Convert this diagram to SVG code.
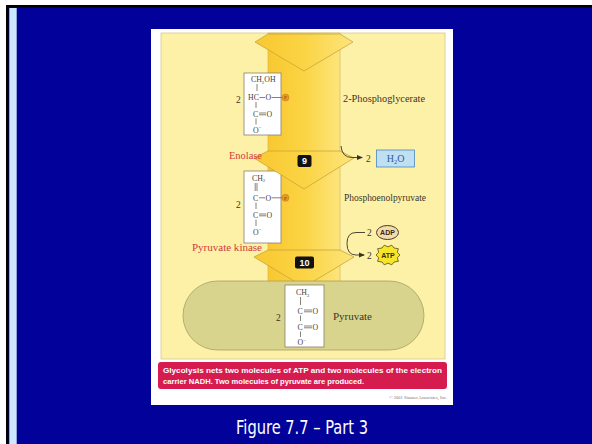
<svg xmlns="http://www.w3.org/2000/svg" width="592" height="444" viewBox="0 0 592 444">
<defs>
<style>
.mol{font-family:"Liberation Serif",serif;font-size:7.8px;fill:#4a4236}
.lbl{font-family:"Liberation Serif",serif;font-size:9.5px;fill:#3c3426}
.red{font-family:"Liberation Serif",serif;font-size:9.5px;fill:#d23a3a}
.bond{stroke:#6a6250;stroke-width:0.8;fill:none}
.box{fill:#ffffff;stroke:#8a8068;stroke-width:0.8}
.head{fill:url(#bandg);stroke:#c9a43a;stroke-width:0.8}
.step{fill:#111;}
.stept{font-family:"Liberation Sans",sans-serif;font-weight:bold;font-size:9px;fill:#fff;text-anchor:middle}
</style>
<linearGradient id="bandg" x1="0" y1="0" x2="1" y2="0">
<stop offset="0" stop-color="#f8c830"/>
<stop offset="0.5" stop-color="#fbd444"/>
<stop offset="1" stop-color="#fde57c"/>
</linearGradient>
<marker id="ah" markerWidth="6" markerHeight="6" refX="5" refY="3" orient="auto" markerUnits="userSpaceOnUse">
<path d="M0,0.5 L6,3 L0,5.5 Z" fill="#3a3426"/>
</marker>
</defs>

<rect x="0" y="0" width="592" height="444" fill="#02029a"/>
<rect x="0" y="0" width="592" height="5" fill="#ffffff"/>
<rect x="0" y="5" width="592" height="2.5" fill="#000000"/>
<rect x="0" y="0" width="6" height="444" fill="#ffffff"/>
<rect x="6" y="5" width="2.7" height="439" fill="#000000"/>
<rect x="9.3" y="8" width="7.4" height="436" fill="#cce8ff"/>

<g id="panel">
<rect x="151" y="29" width="302" height="376" fill="#ffffff"/>
<rect x="161" y="33" width="284" height="326" fill="#fdf1a8" stroke="#d8c890" stroke-width="0.8"/>
</g>

<g id="band">
<rect x="268" y="33" width="72" height="260" fill="url(#bandg)" stroke="#d2b04a" stroke-width="0.6"/>
</g>

<g id="step-top">
<polygon class="head" points="268,34 255,42 304,71 353,42 340,34"/>
</g>

<g id="node-2pg">
<rect class="box" x="244" y="73" width="37" height="62"/>
<text class="mol" x="251" y="82">CH<tspan font-size="5" dy="1.5">2</tspan><tspan dy="-1.5">OH</tspan></text>
<line class="bond" x1="257" y1="84" x2="257" y2="91"/>
<text class="mol" x="248" y="100">HC</text>
<line class="bond" x1="259.5" y1="97.5" x2="265" y2="97.5"/>
<text class="mol" x="265.5" y="100">O</text>
<line class="bond" x1="271.5" y1="97.5" x2="282" y2="97.5"/>
<circle cx="285.5" cy="97.5" r="3.5" fill="#e89a24" stroke="#b06a10" stroke-width="0.4"/>
<text x="285.5" y="99.4" font-family="Liberation Serif,serif" font-size="5" fill="#6a3a00" text-anchor="middle">P</text>
<line class="bond" x1="256" y1="102" x2="256" y2="108"/>
<text class="mol" x="253" y="116.5">C</text>
<line class="bond" x1="259" y1="113" x2="266" y2="113"/>
<line class="bond" x1="259" y1="114.8" x2="266" y2="114.8"/>
<text class="mol" x="266.5" y="116.5">O</text>
<line class="bond" x1="256" y1="118.5" x2="256" y2="124.5"/>
<text class="mol" x="253" y="132.5">O<tspan font-size="5" dy="-3.5">−</tspan></text>
<text class="lbl" x="236" y="103">2</text>
<text class="lbl" x="343" y="102" textLength="82" lengthAdjust="spacingAndGlyphs">2-Phosphoglycerate</text>
</g>

<g id="node-pep">
<rect class="box" x="244" y="171" width="37" height="72"/>
<text class="mol" x="252" y="180.5">CH<tspan font-size="5" dy="1.5">2</tspan></text>
<line class="bond" x1="255.2" y1="183" x2="255.2" y2="191"/>
<line class="bond" x1="257" y1="183" x2="257" y2="191"/>
<text class="mol" x="253" y="200.5">C</text>
<line class="bond" x1="259" y1="197.8" x2="265" y2="197.8"/>
<text class="mol" x="265.5" y="200.5">O</text>
<line class="bond" x1="271.5" y1="197.8" x2="282" y2="197.8"/>
<circle cx="285.5" cy="197.8" r="3.5" fill="#e89a24" stroke="#b06a10" stroke-width="0.4"/>
<text x="285.5" y="199.7" font-family="Liberation Serif,serif" font-size="5" fill="#6a3a00" text-anchor="middle">P</text>
<line class="bond" x1="256" y1="202.5" x2="256" y2="209"/>
<text class="mol" x="253" y="217.5">C</text>
<line class="bond" x1="259" y1="214" x2="266" y2="214"/>
<line class="bond" x1="259" y1="215.8" x2="266" y2="215.8"/>
<text class="mol" x="266.5" y="217.5">O</text>
<line class="bond" x1="256" y1="219.5" x2="256" y2="226"/>
<text class="mol" x="253" y="234.5">O<tspan font-size="5" dy="-3.5">−</tspan></text>
<text class="lbl" x="236" y="207.5">2</text>
<text class="lbl" x="344" y="201" textLength="82" lengthAdjust="spacingAndGlyphs">Phosphoenolpyruvate</text>
</g>

<g id="step-9">
<polygon class="head" points="268,151 254,158 304,189 354,158 340,151"/>
<rect class="step" x="297.5" y="155" width="14" height="12" rx="2"/>
<text class="stept" x="304.5" y="164.3">9</text>
<text class="red" x="229" y="158.5" textLength="33" lengthAdjust="spacingAndGlyphs">Enolase</text>
</g>

<g id="node-h2o">
<text class="lbl" x="366" y="161.5">2</text>
<rect x="376.5" y="150" width="38" height="17" fill="#bfe0f2" stroke="#4a88bc" stroke-width="0.8"/>
<text x="395.5" y="162" font-family="Liberation Serif,serif" font-size="10" fill="#2a5c9a" text-anchor="middle">H<tspan font-size="6.5" dy="1.8">2</tspan><tspan dy="-1.8">O</tspan></text>
</g>

<g id="step-10">
<polygon class="head" points="268,250 254,257 304,287 354,257 340,250"/>
</g>

<g id="node-pyruvate">
<rect x="183" y="281" width="241" height="69" rx="34.5" fill="#d8d48e" stroke="#a8a060" stroke-width="0.8"/>
<rect class="box" x="285" y="285" width="39" height="62"/>
<text class="mol" x="296" y="295">CH<tspan font-size="5" dy="1.5">3</tspan></text>
<line class="bond" x1="300.5" y1="297" x2="300.5" y2="305"/>
<text class="mol" x="297.5" y="313.5">C</text>
<line class="bond" x1="304" y1="310" x2="312" y2="310"/>
<line class="bond" x1="304" y1="311.8" x2="312" y2="311.8"/>
<text class="mol" x="312.5" y="313.5">O</text>
<line class="bond" x1="300.5" y1="315.5" x2="300.5" y2="321"/>
<text class="mol" x="297.5" y="329.5">C</text>
<line class="bond" x1="304" y1="326" x2="312" y2="326"/>
<line class="bond" x1="304" y1="327.8" x2="312" y2="327.8"/>
<text class="mol" x="312.5" y="329.5">O</text>
<line class="bond" x1="300.5" y1="331.5" x2="300.5" y2="337"/>
<text class="mol" x="297.5" y="345">O<tspan font-size="5" dy="-3.5">−</tspan></text>
<text class="lbl" x="276" y="321">2</text>
<text class="lbl" x="333" y="320" textLength="39" lengthAdjust="spacingAndGlyphs">Pyruvate</text>
</g>

<g id="step-10-label">
<rect class="step" x="295" y="256.5" width="19" height="12" rx="2"/>
<text class="stept" x="304.5" y="265.8">10</text>
<text class="red" x="192" y="250.5" textLength="70" lengthAdjust="spacingAndGlyphs">Pyruvate kinase</text>
</g>

<g id="node-adp">
<text class="lbl" x="367" y="236">2</text>
<ellipse cx="387.5" cy="232.5" rx="11" ry="7" fill="#f2dcae" stroke="#4a3a20" stroke-width="1"/>
<text x="387.5" y="235.2" font-family="Liberation Sans,sans-serif" font-weight="bold" font-size="7" fill="#3a2a10" text-anchor="middle">ADP</text>
</g>

<g id="node-atp">
<text class="lbl" x="367" y="259">2</text>
<polygon points="400,255 397.3,257.8 398.4,261.3 394,262 391.8,264.8 388,263.2 384.2,264.8 382,262 377.6,261.3 378.7,257.8 376,255 378.7,252.2 377.6,248.7 382,248 384.2,245.2 388,246.8 391.8,245.2 394,248 398.4,248.7 397.3,252.2" fill="#f6e62a" stroke="#5a4a10" stroke-width="0.8"/>
<text x="388" y="257.6" font-family="Liberation Sans,sans-serif" font-weight="bold" font-size="7" fill="#3a2a10" text-anchor="middle">ATP</text>
</g>

<g id="connectors">
<path d="M341,146 Q342,157.5 352,157.5 L362,157.5" fill="none" stroke="#3a3426" stroke-width="0.9" marker-end="url(#ah)"/>
<path d="M365,232.5 L356,232.5 Q347,232.5 347,243.5 Q347,255 356,255 L364,255" fill="none" stroke="#3a3426" stroke-width="0.9" marker-end="url(#ah)"/>
</g>

<g id="caption-box">
<rect x="158" y="362" width="289" height="27" rx="3" fill="#d61c4e"/>
<text x="163" y="372.8" font-family="Liberation Sans,sans-serif" font-weight="bold" font-size="7.8" fill="#ffffff" textLength="279" lengthAdjust="spacingAndGlyphs">Glycolysis nets two molecules of ATP and two molecules of the electron</text>
<text x="163" y="384" font-family="Liberation Sans,sans-serif" font-weight="bold" font-size="7.8" fill="#ffffff" textLength="201" lengthAdjust="spacingAndGlyphs">carrier NADH. Two molecules of pyruvate are produced.</text>
<text x="447" y="399" font-family="Liberation Serif,serif" font-size="4.5" fill="#777" text-anchor="end">© 2001 Sinauer Associates, Inc.</text>
</g>

<g id="title">
<text x="302" y="434" font-family="DejaVu Sans,Verdana,sans-serif" font-size="19.5" fill="#ffffff" text-anchor="middle" textLength="132" lengthAdjust="spacingAndGlyphs">Figure 7.7 – Part 3</text>
</g>
</svg>
